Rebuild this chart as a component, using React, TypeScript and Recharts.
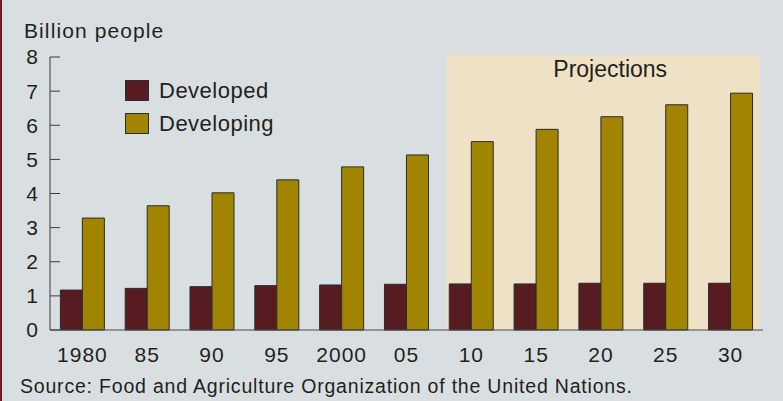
import React from 'react';
import { BarChart, Bar, XAxis, YAxis, ReferenceArea, Legend } from 'recharts';

const years = ['1980', '85', '90', '95', '2000', '05', '10', '15', '20', '25', '30'];
const developed = [1.17, 1.22, 1.27, 1.3, 1.32, 1.34, 1.35, 1.35, 1.37, 1.37, 1.37];
const developing = [3.28, 3.64, 4.02, 4.4, 4.78, 5.13, 5.52, 5.88, 6.25, 6.6, 6.94];
const yTicks = [0, 1, 2, 3, 4, 5, 6, 7, 8];
// projection shading, in category-index units (0..11)
const projectionStart = 6.12;
const projectionEnd = 10.95;

const data = years.map((year, i) => ({
  year,
  slot: i + 0.5,
  developed: developed[i],
  developing: developing[i],
}));

const FONT = '"Liberation Sans", Arial, Helvetica, sans-serif';
const INK = '#231f20';

const renderLegend = (props: any) => {
  const { payload } = props;
  return (
    <div>
      {(payload || []).map((entry: any) => (
        <div key={entry.value} style={{ display: 'flex', alignItems: 'center', height: 33 }}>
          <span
            style={{
              display: 'inline-block',
              width: 22,
              height: 19,
              background: entry.color,
              border: '1px solid #2b2b2b',
              marginRight: 10,
            }}
          />
          <span style={{ fontFamily: FONT, fontSize: 22, color: INK, letterSpacing: 0.5 }}>{entry.value}</span>
        </div>
      ))}
    </div>
  );
};

export default function App() {
  return (
    <div
      style={{
        position: 'absolute',
        left: 0,
        top: 0,
        width: 783,
        height: 401,
        background: '#d9dfe0',
        overflow: 'hidden',
      }}
    >
      <div style={{ position: 'absolute', left: 0, top: 0, width: 2, height: 401, background: '#6b1e25' }} />
      <div
        style={{
          position: 'absolute',
          left: 24,
          top: 20,
          fontFamily: FONT,
          fontSize: 21,
          lineHeight: 1,
          color: INK,
          letterSpacing: 1.1,
        }}
      >
        Billion people
      </div>
      <BarChart
        width={783}
        height={401}
        data={data}
        margin={{ top: 57, right: 20, bottom: 0, left: 0 }}
        barGap={0}
        barCategoryGap="16%"
      >
        <XAxis
          xAxisId="num"
          dataKey="slot"
          type="number"
          domain={[0, 11]}
          hide
          allowDataOverflow
        />
        <ReferenceArea
          xAxisId="num"
          x1={projectionStart}
          x2={projectionEnd}
          y1={0}
          y2={8.06}
          fill="#efe1c6"
          fillOpacity={1}
          stroke="none"
          ifOverflow="visible"
          label={{
            value: 'Projections',
            position: 'insideTop',
            offset: 6,
            dx: 7,
            fontSize: 23,
            fill: INK,
            fontFamily: FONT,
          }}
        />
        <XAxis
          dataKey="year"
          height={71}
          tickLine={false}
          tickSize={0}
          tickMargin={17}
          stroke="#4a4a4a"
          tick={{ fontSize: 21, fill: INK, fontFamily: FONT, letterSpacing: 1 }}
          interval={0}
        />
        <YAxis
          width={50}
          domain={[0, 8]}
          ticks={yTicks}
          interval={0}
          tickSize={-10}
          tickMargin={22}
          stroke="#3a3a3a"
          tick={{ fontSize: 21, fill: INK, fontFamily: FONT }}
        />
        <Legend
          layout="vertical"
          align="center"
          verticalAlign="middle"
          content={renderLegend}
          wrapperStyle={{ position: 'absolute', left: 125, top: 74, width: 200, height: 70 }}
        />
        <Bar
          dataKey="developed"
          name="Developed"
          fill="#561c21"
          stroke="#2b2b2b"
          strokeWidth={1}
          isAnimationActive={false}
        />
        <Bar
          dataKey="developing"
          name="Developing"
          fill="#a18500"
          stroke="#2b2b2b"
          strokeWidth={1}
          isAnimationActive={false}
        />
      </BarChart>
      <div
        style={{
          position: 'absolute',
          left: 20,
          top: 377,
          fontFamily: FONT,
          fontSize: 19.5,
          lineHeight: 1,
          color: INK,
          letterSpacing: 0.8,
          whiteSpace: 'nowrap',
        }}
      >
        Source: Food and Agriculture Organization of the United Nations.
      </div>
    </div>
  );
}
